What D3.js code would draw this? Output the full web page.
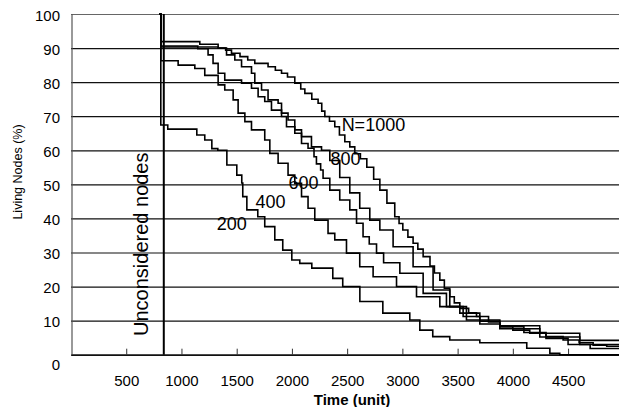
<!DOCTYPE html>
<html>
<head>
<meta charset="utf-8">
<script src="https://cdn.jsdelivr.net/npm/d3@7"></script>
<style>
  body { margin: 0; background: #fff; }
  text { font-family: "Liberation Sans", Arial, sans-serif; fill: #000; }
</style>
</head>
<body>
<div id="chart"></div>
<script>
// survival of nodes for different network sizes N
var timeTicks = [500, 1000, 1500, 2000, 2500, 3000, 3500, 4000, 4500];
var pctTicks = [0, 10, 20, 30, 40, 50, 60, 70, 80, 90, 100];
var unconsideredTime = 840;

var n200 = [[800,100],[813,67.4],[876,66.2],[1139,64.5],[1211,63],[1275,60.5],[1329,60],[1411,55.7],[1501,52.7],[1546,50.4],[1555,46.4],[1592,42.5],[1691,40.5],[1754,37.6],[1845,33.7],[1917,30.7],[1999,27.8],[2071,26.8],[2180,25.4],[2370,22.4],[2460,20],[2615,15.6],[2823,12.2],[3067,10.2],[3158,7.2],[3275,5.3],[3429,4.3],[3701,3.5],[4126,1.9],[4335,0.4],[4425,0],[5000,0]];
var n400 = [[800,100],[813,86.3],[970,85],[1121,84],[1211,82],[1332,79.2],[1392,77.7],[1468,74.8],[1513,70.9],[1574,68.4],[1634,66],[1754,63],[1800,59.1],[1875,56.2],[1965,52.7],[2026,50.3],[2087,46.4],[2146,43],[2207,39.5],[2327,35.6],[2388,33.7],[2494,29.8],[2614,25.8],[2735,22.9],[2947,20],[3128,17],[3339,14.1],[3520,12.2],[3701,10.2],[3882,8.2],[4100,6.5],[4300,4.8],[4500,3],[4700,1.8],[5000,1.2]];
var n600 = [[800,100],[813,90.6],[1148,89.8],[1241,88],[1286,85.5],[1332,82.6],[1392,80.6],[1544,79.7],[1634,78.2],[1694,75.7],[1754,74.3],[1815,71.8],[1906,69.9],[1951,66.9],[2026,65],[2087,62],[2146,60.6],[2200,58.1],[2222,56],[2260,54.2],[2282,51.8],[2343,48.3],[2433,45.4],[2524,42.5],[2585,38.6],[2644,34.6],[2700,32.5],[2766,29.8],[2830,27],[2977,23.9],[3188,18],[3399,14.1],[3580,10.2],[3701,9],[3882,7.6],[4244,5.2],[4606,3],[5000,1.8]];
var n800 = [[800,100],[813,90.3],[1332,90],[1408,88],[1483,86.5],[1544,84.5],[1634,82.6],[1664,79.7],[1725,77.7],[1784,74.8],[1875,73.8],[1906,70.9],[1965,68.9],[2026,66],[2087,64],[2177,61],[2268,60],[2343,57],[2433,52],[2524,47.5],[2614,43],[2705,39.5],[2796,36.6],[2916,31.7],[3097,25.8],[3278,19],[3429,14.1],[3550,11.2],[3701,9.8],[3882,8.5],[4244,6.3],[4606,4.2],[5000,3.2]];
var n1000 = [[800,100],[813,91.9],[1166,91.1],[1332,90],[1400,89.4],[1453,88.5],[1530,87.5],[1600,86.5],[1664,85.5],[1784,84.5],[1850,83.5],[1906,82.6],[1960,81.5],[2026,79.7],[2080,78],[2117,76.7],[2180,75],[2237,73.8],[2270,71.5],[2298,69.9],[2340,68.5],[2388,66.9],[2430,64.5],[2479,62.5],[2524,61],[2569,59],[2620,57.5],[2678,55],[2740,51.5],[2796,48.3],[2860,44.5],[2931,40.5],[2970,38.5],[3004,36.6],[3050,34.5],[3097,32.7],[3140,31],[3188,28.8],[3250,26],[3290,24],[3339,21.9],[3380,19.5],[3429,17],[3470,15.2],[3520,13.6],[3600,12.3],[3671,11.2],[3780,9.6],[3882,8.2],[4000,7.2],[4153,6.3],[4300,5.3],[4455,4.3],[4600,3.5],[4727,2.8],[4850,2.5],[5000,2.3]];

var seriesList = [n200, n400, n600, n800, n1000];
var seriesNames = ["200", "400", "600", "800", "N=1000"];
// label anchor in data units [time, percent]
var labelPos = [[1320, 38.5], [1670, 45], [1970, 50.5], [2350, 57.5], [2450, 67.5]];

var W = 619, H = 407;
var margin = { top: 14, right: 0, bottom: 52, left: 71 };

var x = d3.scaleLinear().domain([0, 5000]).range([margin.left, margin.left + 5000 * 0.11046]);
var y = d3.scaleLinear().domain([0, 100]).range([354.7, margin.top]);

var svg = d3.select("#chart").append("svg")
    .attr("width", W)
    .attr("height", H);

svg.append("rect").attr("width", W).attr("height", H).attr("fill", "#fff");

// horizontal grid + y labels
var yAxis = svg.append("g")
    .attr("transform", "translate(" + margin.left + ",0)")
    .call(d3.axisLeft(y).tickValues(pctTicks).tickSize(-(W - margin.left)).tickPadding(11));
yAxis.select(".domain").remove();
yAxis.selectAll(".tick line")
    .attr("stroke", function (d) { return d == 100 ? "#666" : "#111"; })
    .attr("stroke-width", 1.2);
yAxis.selectAll(".tick text")
    .attr("font-size", 15)
    .attr("font-family", "Liberation Sans, Arial, sans-serif")
    .attr("dy", function (d) { return d == 0 ? "1.0em" : "0.42em"; });

// left axis line
svg.append("line")
    .attr("x1", x(0) + 1).attr("x2", x(0) + 1)
    .attr("y1", y(100)).attr("y2", y(0))
    .attr("stroke", "#555").attr("stroke-width", 1.2);

// x axis
var xAxis = svg.append("g")
    .attr("transform", "translate(0," + y(0) + ")")
    .call(d3.axisBottom(x).tickValues(timeTicks).tickFormat(d3.format("d"))
        .tickSizeInner(-6).tickSizeOuter(0).tickPadding(21));
xAxis.select(".domain").attr("stroke", "#111").attr("stroke-width", 1.5);
xAxis.selectAll(".tick line").attr("stroke", "#333");
xAxis.selectAll(".tick text")
    .attr("font-size", 15)
    .attr("font-family", "Liberation Sans, Arial, sans-serif");

// axis titles
svg.append("text")
    .attr("x", 352).attr("y", 405)
    .attr("text-anchor", "middle")
    .attr("font-size", 15)
    .attr("font-weight", "bold")
    .text("Time (unit)");

svg.append("text")
    .attr("transform", "translate(22,172) rotate(-90)")
    .attr("text-anchor", "middle")
    .attr("font-size", 12.5)
    .text("Living Nodes (%)");

// unconsidered region boundary
svg.append("line")
    .attr("x1", x(unconsideredTime)).attr("x2", x(unconsideredTime))
    .attr("y1", y(100)).attr("y2", y(0))
    .attr("stroke", "#000").attr("stroke-width", 2);

svg.append("text")
    .attr("transform", "translate(" + (x(unconsideredTime) - 16) + "," + y(5.5) + ") rotate(-90)")
    .attr("font-size", 20)
    .text("Unconsidered nodes");

// curves
var line = d3.line()
    .x(function (d) { return x(d[0]); })
    .y(function (d) { return y(d[1]); })
    .curve(d3.curveStepAfter);

svg.append("g").selectAll("path")
    .data(seriesList)
    .enter().append("path")
    .attr("d", line)
    .attr("fill", "none")
    .attr("stroke", "#000")
    .attr("stroke-width", 1.6);

svg.append("g").selectAll("text")
    .data(seriesNames)
    .enter().append("text")
    .attr("x", function (d, i) { return x(labelPos[i][0]); })
    .attr("y", function (d, i) { return y(labelPos[i][1]); })
    .attr("dy", "0.36em")
    .attr("font-size", 18)
    .text(function (d) { return d; });
</script>
</body>
</html>
